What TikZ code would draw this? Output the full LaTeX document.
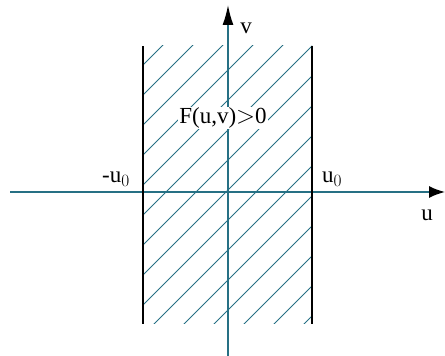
\documentclass[tikz,border=0pt]{standalone}
\usepackage{fontspec}
\setmainfont{Liberation Serif}
\usetikzlibrary{arrows.meta}
\definecolor{axisteal}{RGB}{38,112,132}

\begin{document}
\begin{tikzpicture}[x=1pt,y=1pt,
  axis/.style={draw=axisteal,line width=1.6pt},
  bound/.style={draw=black,line width=2.8pt},
  hatch/.style={draw=axisteal,line width=0.9pt},
  lbl/.style={font=\fontsize{23}{26}\selectfont,inner sep=1pt}]
\useasboundingbox (0,0) rectangle (445,356);
\coordinate (uL) at (10,164);
\coordinate (uR) at (445,164);
\coordinate (vB) at (228,0);
\coordinate (vT) at (228,351);
\coordinate (lB) at (143,32);
\coordinate (lT) at (143,310);
\coordinate (rB) at (312,32);
\coordinate (rT) at (312,310);
\begin{scope}
  \clip (lB) rectangle (rT);
  \foreach \c in {-178,-148,...,272}
    \draw[hatch] (\c,0)--++(356,356);
\end{scope}
\draw[axis,-{Latex[length=16pt,width=12pt,black]}] (uL)--(uR);
\draw[axis,-{Latex[length=20pt,width=11pt,black]}] (vB)--(vT);
\draw[bound] (lB)--(lT);
\draw[bound] (rB)--(rT);
\node[lbl,fill=white] (F) at (223,238) {F(u,v)$>$0};
\node[lbl] (v) at (246,328) {v};
\node[lbl] (mu) at (116,177) {-u$_0$};
\node[lbl] (pu) at (332,177) {u$_0$};
\node[lbl] (u) at (427,141) {u};
\end{tikzpicture}
\end{document}
